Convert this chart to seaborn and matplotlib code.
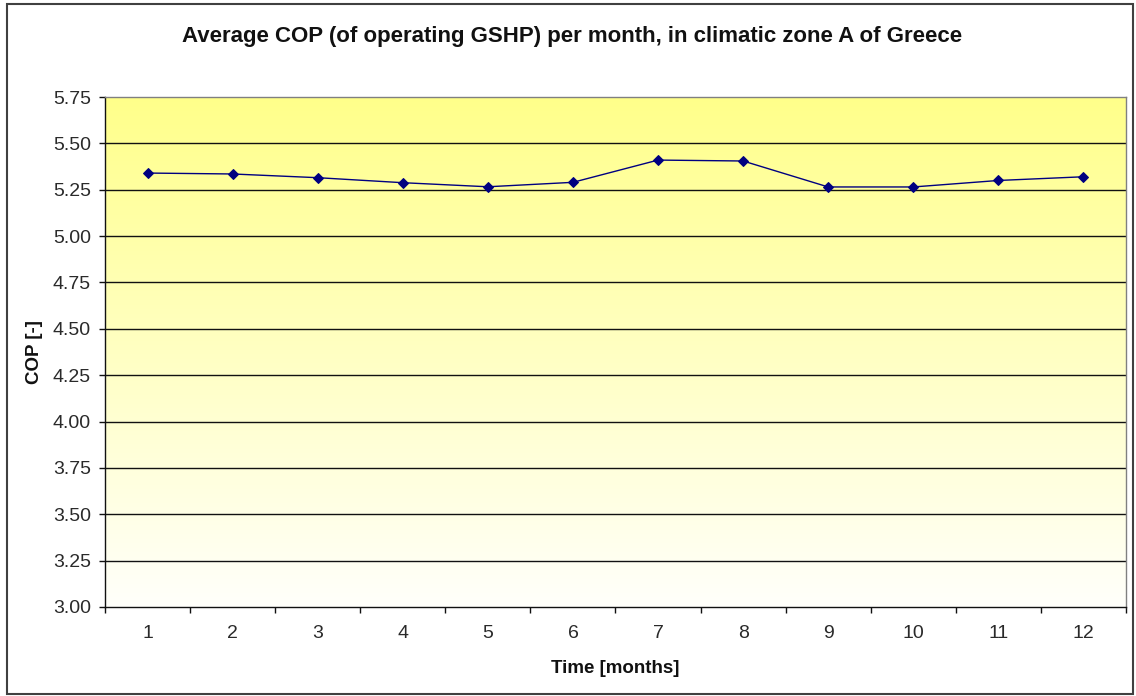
import numpy as np
import pandas as pd
import matplotlib
matplotlib.use("Agg")
import matplotlib.pyplot as plt
from matplotlib.colors import LinearSegmentedColormap
from matplotlib.patches import Rectangle
import seaborn as sns

months = [1, 2, 3, 4, 5, 6, 7, 8, 9, 10, 11, 12]
cop = [5.34, 5.335, 5.315, 5.288, 5.266, 5.29, 5.41, 5.405, 5.265, 5.265, 5.30, 5.32]
y_ticks = [3.00, 3.25, 3.50, 3.75, 4.00, 4.25, 4.50, 4.75, 5.00, 5.25, 5.50, 5.75]

sns.set_theme(style="white")
plt.rcParams["font.family"] = ["Liberation Sans", "DejaVu Sans"]

df = pd.DataFrame({"month": months, "cop": cop})

fig = plt.figure(figsize=(11.36, 6.96), dpi=100)
ax = fig.add_axes([0.0924, 0.1279, 0.9912 - 0.0924, 0.8606 - 0.1279])

ymin, ymax = y_ticks[0], y_ticks[-1]
xmin, xmax = 0.5, len(months) + 0.5

# yellow-to-white vertical gradient behind the plot
grad = np.linspace(1, 0, 256).reshape(-1, 1)
cmap = LinearSegmentedColormap.from_list("yw", ["#fffffb", "#ffff8a"])
ax.imshow(grad, cmap=cmap, aspect="auto", extent=[xmin, xmax, ymin, ymax],
          origin="upper", zorder=0, interpolation="bilinear")

for yv in y_ticks[1:-1]:
    ax.axhline(yv, color="#111111", lw=1.0, zorder=1)

sns.lineplot(data=df, x="month", y="cop", ax=ax, color="#000080", lw=1.0,
             marker="D", markersize=5.5, markeredgecolor="#000080",
             markerfacecolor="#000080", zorder=3)

ax.set_xlim(xmin, xmax)
ax.set_ylim(ymin, ymax)
ax.set_xticks(months)
ax.set_xticklabels([str(m) for m in months])
ax.set_xticks(np.arange(xmin, xmax + 0.01, 1.0), minor=True)
ax.set_yticks(y_ticks)
ax.set_yticklabels([f"{v:.2f}" for v in y_ticks])

ax.tick_params(axis="x", which="major", length=0, pad=13, labelsize=14, labelcolor="#2a2a2a")
ax.tick_params(axis="x", which="minor", length=4, width=1, color="#111111", direction="out", bottom=True)
ax.tick_params(axis="y", which="major", length=4, width=1, color="#111111", direction="out",
               left=True, pad=6, labelsize=14, labelcolor="#2a2a2a")

for side in ["left", "bottom"]:
    ax.spines[side].set_color("#111111")
    ax.spines[side].set_linewidth(1.0)
for side in ["top", "right"]:
    ax.spines[side].set_color("#808080")
    ax.spines[side].set_linewidth(1.0)

ax.set_xlabel("Time [months]", fontsize=13.5, fontweight="bold", color="#111111", labelpad=13)
ax.set_ylabel("COP [-]", fontsize=13.5, fontweight="bold", color="#111111", labelpad=7)
fig.suptitle("Average COP (of operating GSHP) per month, in climatic zone A of Greece",
             fontsize=16, fontweight="bold", color="#111111", x=0.5035, y=0.947, va="center")

fig.patches.append(Rectangle((7 / 1136, 2 / 696), 1126 / 1136, 690 / 696,
                             transform=fig.transFigure, fill=False,
                             edgecolor="#404040", lw=1.5, zorder=10))

fig.savefig("out.png", dpi=100, facecolor="white")
